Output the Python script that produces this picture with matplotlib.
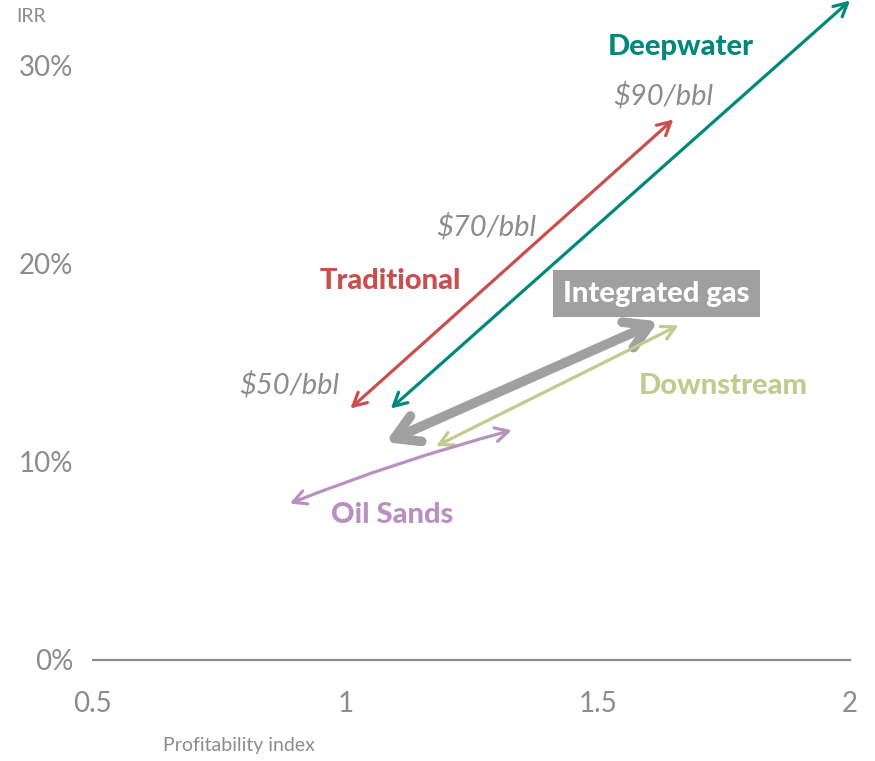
import matplotlib
matplotlib.use("Agg")
import matplotlib.pyplot as plt

plt.rcParams['font.family'] = ['Lato', 'DejaVu Sans']

# Arrow ranges: (profitability index, IRR %) at low and high oil price
segments = ['Deepwater', 'Traditional', 'Integrated gas', 'Downstream', 'Oil Sands']
pi_low = [1.09, 1.01, 1.08, 1.18, 0.89]
irr_low = [12.7, 12.7, 11.0, 10.8, 7.9]
pi_high = [2.00, 1.65, 1.62, 1.66, 1.33]
irr_high = [33.3, 27.3, 17.1, 16.9, 11.6]

price_labels = ['$50/bbl', '$70/bbl', '$90/bbl']
price_pi = [0.89, 1.28, 1.63]
price_irr = [13.9, 21.9, 28.5]

x_ticks = [0.5, 1, 1.5, 2]
x_tick_labels = ['0.5', '1', '1.5', '2']
y_ticks = [0, 10, 20, 30]
y_tick_labels = ['0%', '10%', '20%', '30%']

colors = {
    'Deepwater': '#00897b',
    'Traditional': '#c94f4f',
    'Integrated gas': '#a0a0a0',
    'Downstream': '#c1ca8f',
    'Oil Sands': '#b991c0',
}
widths = {'Deepwater': 2.3, 'Traditional': 2.3, 'Integrated gas': 7.0,
          'Downstream': 2.3, 'Oil Sands': 2.3}
grey_text = '#8c8c8c'

fig = plt.figure(figsize=(8.75, 7.61), dpi=100)
ax = fig.add_axes([93 / 875, 101 / 761, 757 / 875, 660 / 761])
ax.set_xlim(0.5, 2)
ax.set_ylim(0, 33.33)

for i, s in enumerate(segments):
    if s == 'Integrated gas':
        style = '<->,head_length=0.85,head_width=0.5'
        scale = 20
    else:
        style = '<->,head_length=0.95,head_width=0.5'
        scale = 10
    ax.annotate('', xy=(pi_high[i], irr_high[i]), xytext=(pi_low[i], irr_low[i]),
                arrowprops=dict(arrowstyle=style, color=colors[s], lw=widths[s],
                                shrinkA=0, shrinkB=0, mutation_scale=scale,
                                capstyle='round', joinstyle='round',
                                connectionstyle='arc3,rad=-0.03' if s == 'Oil Sands' else 'arc3,rad=0'),
                annotation_clip=False)

# segment labels
lab_kw = dict(fontsize=21, fontweight='black', ha='center', va='center')
ax.text(1.665, 30.97, 'Deepwater', color=colors['Deepwater'], **lab_kw)
ax.text(1.09, 19.15, 'Traditional', color=colors['Traditional'], **lab_kw)
ax.text(1.617, 18.5, 'Integrated gas', color='white',
        bbox=dict(boxstyle='square,pad=0.35', fc=colors['Integrated gas'], ec='none'), **lab_kw)
ax.text(1.748, 13.85, 'Downstream', color=colors['Downstream'], **lab_kw)
ax.text(1.093, 7.3, 'Oil Sands', color=colors['Oil Sands'], **lab_kw)

for lbl, px, py in zip(price_labels, price_pi, price_irr):
    ax.text(px, py, lbl, color=grey_text, fontsize=21, fontstyle='italic',
            ha='center', va='center')

ax.set_xticks(x_ticks)
ax.set_xticklabels(x_tick_labels)
ax.set_yticks(y_ticks)
ax.set_yticklabels(y_tick_labels)
ax.tick_params(axis='both', length=0, labelsize=20, labelcolor=grey_text)
ax.tick_params(axis='x', pad=22)
ax.tick_params(axis='y', pad=14)

for side in ['top', 'right', 'left']:
    ax.spines[side].set_visible(False)
ax.spines['bottom'].set_color('#8c8c8c')
ax.spines['bottom'].set_linewidth(1.6)

fig.text(16 / 875, 1 - 17 / 761, 'IRR', color=grey_text, fontsize=14,
         ha='left', va='center')
fig.text(163 / 875, 1 - 746 / 761, 'Profitability index', color=grey_text, fontsize=14,
         ha='left', va='center')

fig.savefig('out.png', dpi=100)
